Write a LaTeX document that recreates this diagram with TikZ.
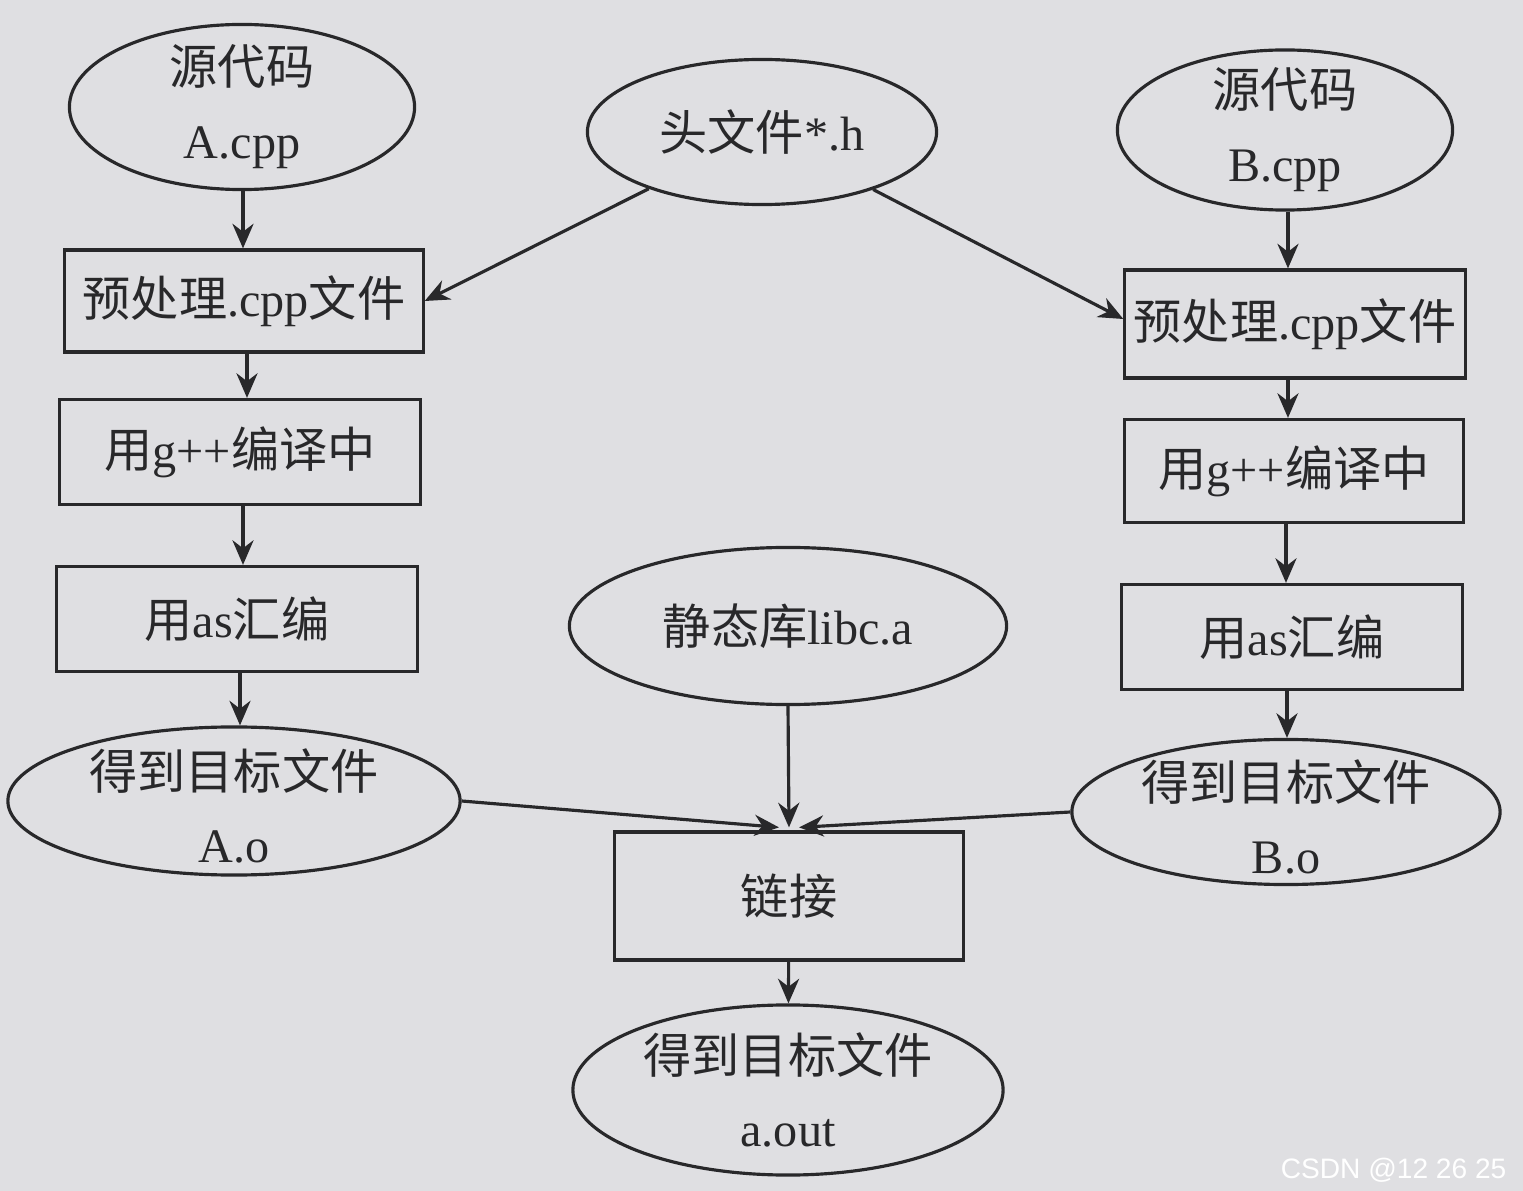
\documentclass[tikz,border=0pt]{standalone}
\usepackage{fontspec}
\setmainfont{Liberation Serif}
\newfontfamily\cjk{Noto Sans CJK SC}
\newfontfamily\wmfont{Liberation Sans}
\usetikzlibrary{shapes.geometric,arrows.meta}
\definecolor{bg}{RGB}{223,223,226}
\definecolor{ink}{RGB}{40,40,42}
\begin{document}
\begin{tikzpicture}[x=0.01cm,y=-0.01cm,
  line width=0.9pt, draw=ink,
  ell/.style={draw=ink,ellipse,inner sep=0pt},
  boxnode/.style={draw=ink,rectangle,inner sep=0pt},
  txt/.style={text=ink,align=center,inner sep=0pt,font=\fontsize{13.7}{21}\selectfont},
  arr/.style={-{Stealth[length=7pt,width=6pt]},draw=ink,line width=0.9pt}]
\fill[bg] (0,0) rectangle (1523,1191);
\useasboundingbox (0,0) rectangle (1523,1191);

% left column
\node[ell,minimum width=3.45cm,minimum height=1.65cm] (acpp) at (242,107) {};
\node[txt] (acppt) at (acpp) {{\cjk 源代码}\\A.cpp};
\node[boxnode,minimum width=3.58cm,minimum height=1.02cm] (lpre) at (244,301) {};
\node[txt] (lpret) at (lpre) {{\cjk 预处理}.cpp{\cjk 文件}};
\node[boxnode,minimum width=3.60cm,minimum height=1.05cm] (lcomp) at (240,452) {};
\node[txt] (lcompt) at (lcomp) {{\cjk 用}g++{\cjk 编译中}};
\node[boxnode,minimum width=3.60cm,minimum height=1.05cm] (las) at (237,619) {};
\node[txt] (last) at (las) {{\cjk 用}as{\cjk 汇编}};
\node[ell,minimum width=4.52cm,minimum height=1.48cm] (ao) at (234,801) {};
\node[txt] (aot) at ([yshift=-0.05cm]ao) {{\cjk 得到目标文件}\\A.o};

% middle
\node[ell,minimum width=3.49cm,minimum height=1.45cm] (hdr) at (762,132) {};
\node[txt] (hdrt) at (hdr) {{\cjk 头文件}*.h};
\node[ell,minimum width=4.37cm,minimum height=1.57cm] (lib) at (788,626) {};
\node[txt] (libt) at (lib) {{\cjk 静态库}libc.a};
\node[boxnode,minimum width=3.48cm,minimum height=1.28cm] (lk) at (789,896) {};
\node[txt] (lkt) at (lk) {{\cjk 链接}};
\node[ell,minimum width=4.30cm,minimum height=1.70cm] (aout) at (788,1090) {};
\node[txt] (aoutt) at (aout) {{\cjk 得到目标文件}\\a.out};

% right column
\node[ell,minimum width=3.35cm,minimum height=1.60cm] (bcpp) at (1285,130) {};
\node[txt] (bcppt) at (bcpp) {{\cjk 源代码}\\B.cpp};
\node[boxnode,minimum width=3.40cm,minimum height=1.08cm] (rpre) at (1295,324) {};
\node[txt] (rpret) at (rpre) {{\cjk 预处理}.cpp{\cjk 文件}};
\node[boxnode,minimum width=3.38cm,minimum height=1.03cm] (rcomp) at (1294,471) {};
\node[txt] (rcompt) at (rcomp) {{\cjk 用}g++{\cjk 编译中}};
\node[boxnode,minimum width=3.40cm,minimum height=1.05cm] (ras) at (1292,637) {};
\node[txt] (rast) at (ras) {{\cjk 用}as{\cjk 汇编}};
\node[ell,minimum width=4.28cm,minimum height=1.45cm] (bo) at (1286,812) {};
\node[txt] (bot) at ([yshift=-0.05cm]bo) {{\cjk 得到目标文件}\\B.o};

% arrows left (vertical)
\draw[arr] ([xshift=0.01cm]acpp.south) -- ([xshift=0.01cm]acpp.south |- lpre.north);
\draw[arr] ([xshift=0.03cm]lpre.south) -- ([xshift=0.03cm]lpre.south |- lcomp.north);
\draw[arr] ([xshift=0.03cm]lcomp.south) -- ([xshift=0.03cm]lcomp.south |- las.north);
\draw[arr] ([xshift=0.03cm]las.south) -- ([xshift=0.03cm]las.south |- ao.north);
% arrows right (vertical)
\draw[arr] ([xshift=0.03cm]bcpp.south) -- ([xshift=0.03cm]bcpp.south |- rpre.north);
\draw[arr] ([xshift=-0.07cm]rpre.south) -- ([xshift=-0.07cm]rpre.south |- rcomp.north);
\draw[arr] ([xshift=-0.08cm]rcomp.south) -- ([xshift=-0.08cm]rcomp.south |- ras.north);
\draw[arr] ([xshift=-0.05cm]ras.south) -- ([xshift=-0.05cm]ras.south |- bo.north);
% header
\draw[arr] (hdr) -- (lpre.east);
\draw[arr] (hdr) -- ([yshift=0.05cm]rpre.west);
% link
\coordinate (lkl) at ([xshift=-0.1cm,yshift=0.03cm]lk.north);
\coordinate (lkm) at ([yshift=0.03cm]lk.north);
\coordinate (lkr) at ([xshift=0.1cm,yshift=0.03cm]lk.north);
\draw[arr] (ao.east) -- (lkl);
\draw[arr] (lib.south) -- (lkm);
\draw[arr] (bo.west) -- (lkr);
\draw[arr] (lk) -- (aout);

% watermark
\node[text=white,font=\wmfont\fontsize{8}{9}\selectfont,anchor=east,inner sep=0pt] (wm) at (1508,1170) {CSDN @12 26 25};
\end{tikzpicture}
\end{document}
